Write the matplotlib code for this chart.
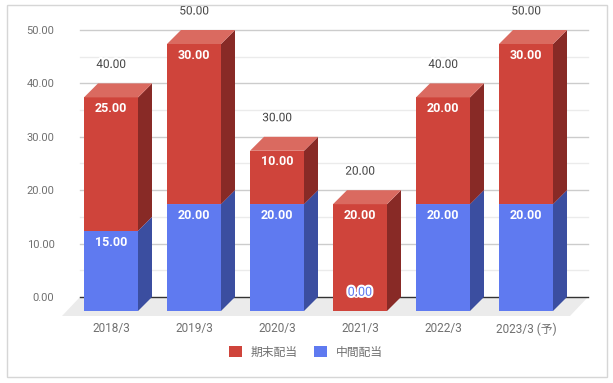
import matplotlib.pyplot as plt
import matplotlib.patheffects as pe
from matplotlib.patches import Polygon, Patch, Rectangle

# data
categories = ["2018/3", "2019/3", "2020/3", "2021/3", "2022/3", "2023/3 (予)"]
interim = [15, 20, 20, 0, 20, 20]      # 中間配当
year_end = [25, 30, 10, 20, 20, 30]    # 期末配当
series_names = ["期末配当", "中間配当"]

plt.rcParams['font.family'] = ['Roboto', 'Noto Sans CJK JP', 'DejaVu Sans']

W, H = 613, 383
fig = plt.figure(figsize=(W / 100, H / 100), dpi=100)

# axes box in pixels (image coords, y down)
ax_l, ax_r, ax_t, ax_b = 60, 600, 20, 318
ax = fig.add_axes([ax_l / W, 1 - ax_b / H, (ax_r - ax_l) / W, (ax_b - ax_t) / H])

px_per_unit = (297 - 30) / 50.0   # y: back plane 0 at 297px, 50 at 30px
px_per_cat = 83.0                 # x: front centres 111 + 83*i
x0_px = 111.0
ax.set_xlim((ax_l - x0_px) / px_per_cat, (ax_r - x0_px) / px_per_cat)
ax.set_ylim(-(ax_b - 297) / px_per_unit, (297 - ax_t) / px_per_unit)

depth_px = 14
dx = depth_px / px_per_cat
dy = depth_px / px_per_unit
bar_w = 54 / px_per_cat

for s in ax.spines.values():
    s.set_visible(False)

# grid in the back plane
g_left = (80 - x0_px) / px_per_cat
g_right = (588 - x0_px) / px_per_cat
for v in range(0, 55, 5):
    if v == 0:
        continue
    col = '#cccccc' if v % 10 == 0 else '#ebebeb'
    ax.plot([g_left, g_right], [v, v], color=col, lw=1, zorder=1)

# floor
fl_front = -(316 - 297) / px_per_unit
f_dx = 18 / px_per_cat
floor = Polygon([(g_left - f_dx, fl_front), (g_left, 0), (g_right, 0),
                 (g_right - f_dx, fl_front)], closed=True,
                facecolor='#ebebeb', edgecolor='none', zorder=1.5)
ax.add_patch(floor)
ax.plot([g_left, g_right], [0, 0], color='#333333', lw=1, zorder=1.6)

red = dict(front='#cf443b', top='#da6a60', side='#882a26')
blue = dict(front='#5f7af0', top='#7d93f3', side='#3b4ea0')

x = list(range(len(categories)))
halo = [pe.withStroke(linewidth=3, foreground='white')]


def draw_segment(i, bottom, height, cols, z):
    if height <= 0:
        return
    b = bottom - dy
    t = bottom + height - dy
    xl = i - bar_w / 2
    xr = i + bar_w / 2
    ax.bar(i, height, bottom=b, width=bar_w, color=cols['front'], zorder=z)
    ax.add_patch(Polygon([(xr, b), (xr + dx, b + dy), (xr + dx, t + dy), (xr, t)],
                         closed=True, facecolor=cols['side'], edgecolor='none', zorder=z))
    ax.add_patch(Polygon([(xl, t), (xl + dx, t + dy), (xr + dx, t + dy), (xr, t)],
                         closed=True, facecolor=cols['top'], edgecolor='none', zorder=z))


for i in x:
    draw_segment(i, 0, interim[i], blue, 3 + i * 0.1)
    draw_segment(i, interim[i], year_end[i], red, 3.05 + i * 0.1)

    # segment labels
    if interim[i] > 0:
        ax.annotate(f"{interim[i]:.2f}", (i, interim[i] - dy), xytext=(0, -8),
                    textcoords='offset points', ha='center', va='center',
                    color='white', fontsize=9, fontweight='bold', zorder=10)
    else:
        ax.annotate(f"{interim[i]:.2f}", (i, -dy), xytext=(0, 13.5),
                    textcoords='offset points', ha='center', va='center',
                    color=blue['front'], fontsize=9, zorder=10, path_effects=halo)
    top = interim[i] + year_end[i]
    ax.annotate(f"{year_end[i]:.2f}", (i, top - dy), xytext=(0, -8),
                textcoords='offset points', ha='center', va='center',
                color='white', fontsize=9, fontweight='bold', zorder=10)
    ax.annotate(f"{top:.2f}", (i, top - dy), xytext=(0, 23.8),
                textcoords='offset points', ha='center', va='center',
                color='#444444', fontsize=8.5, zorder=10, path_effects=halo)

ax.set_yticks(range(0, 60, 10))
ax.set_yticklabels([f"{v:.2f}" for v in range(0, 60, 10)])
ax.set_xticks(x)
ax.set_xticklabels(categories)
ax.tick_params(axis='both', length=0, labelcolor='#707070')
ax.tick_params(axis='y', pad=4, labelsize=8)
ax.tick_params(axis='x', pad=3, labelsize=8.5)

handles = [Patch(facecolor=red['front']), Patch(facecolor=blue['front'])]
fig.legend(handles, series_names, ncol=2, frameon=False, loc='center',
           bbox_to_anchor=(306 / W, 1 - 352 / H), fontsize=8.5,
           handlelength=1.05, handleheight=1.05, handletextpad=0.75,
           columnspacing=1.4, labelcolor='#707070')

fig.patches.append(Rectangle((7 / W, 1 - 377 / H), 600 / W, 372 / H,
                             transform=fig.transFigure, fill=False,
                             edgecolor='#d6d6d6', lw=1))

fig.savefig("out.png", dpi=100)
